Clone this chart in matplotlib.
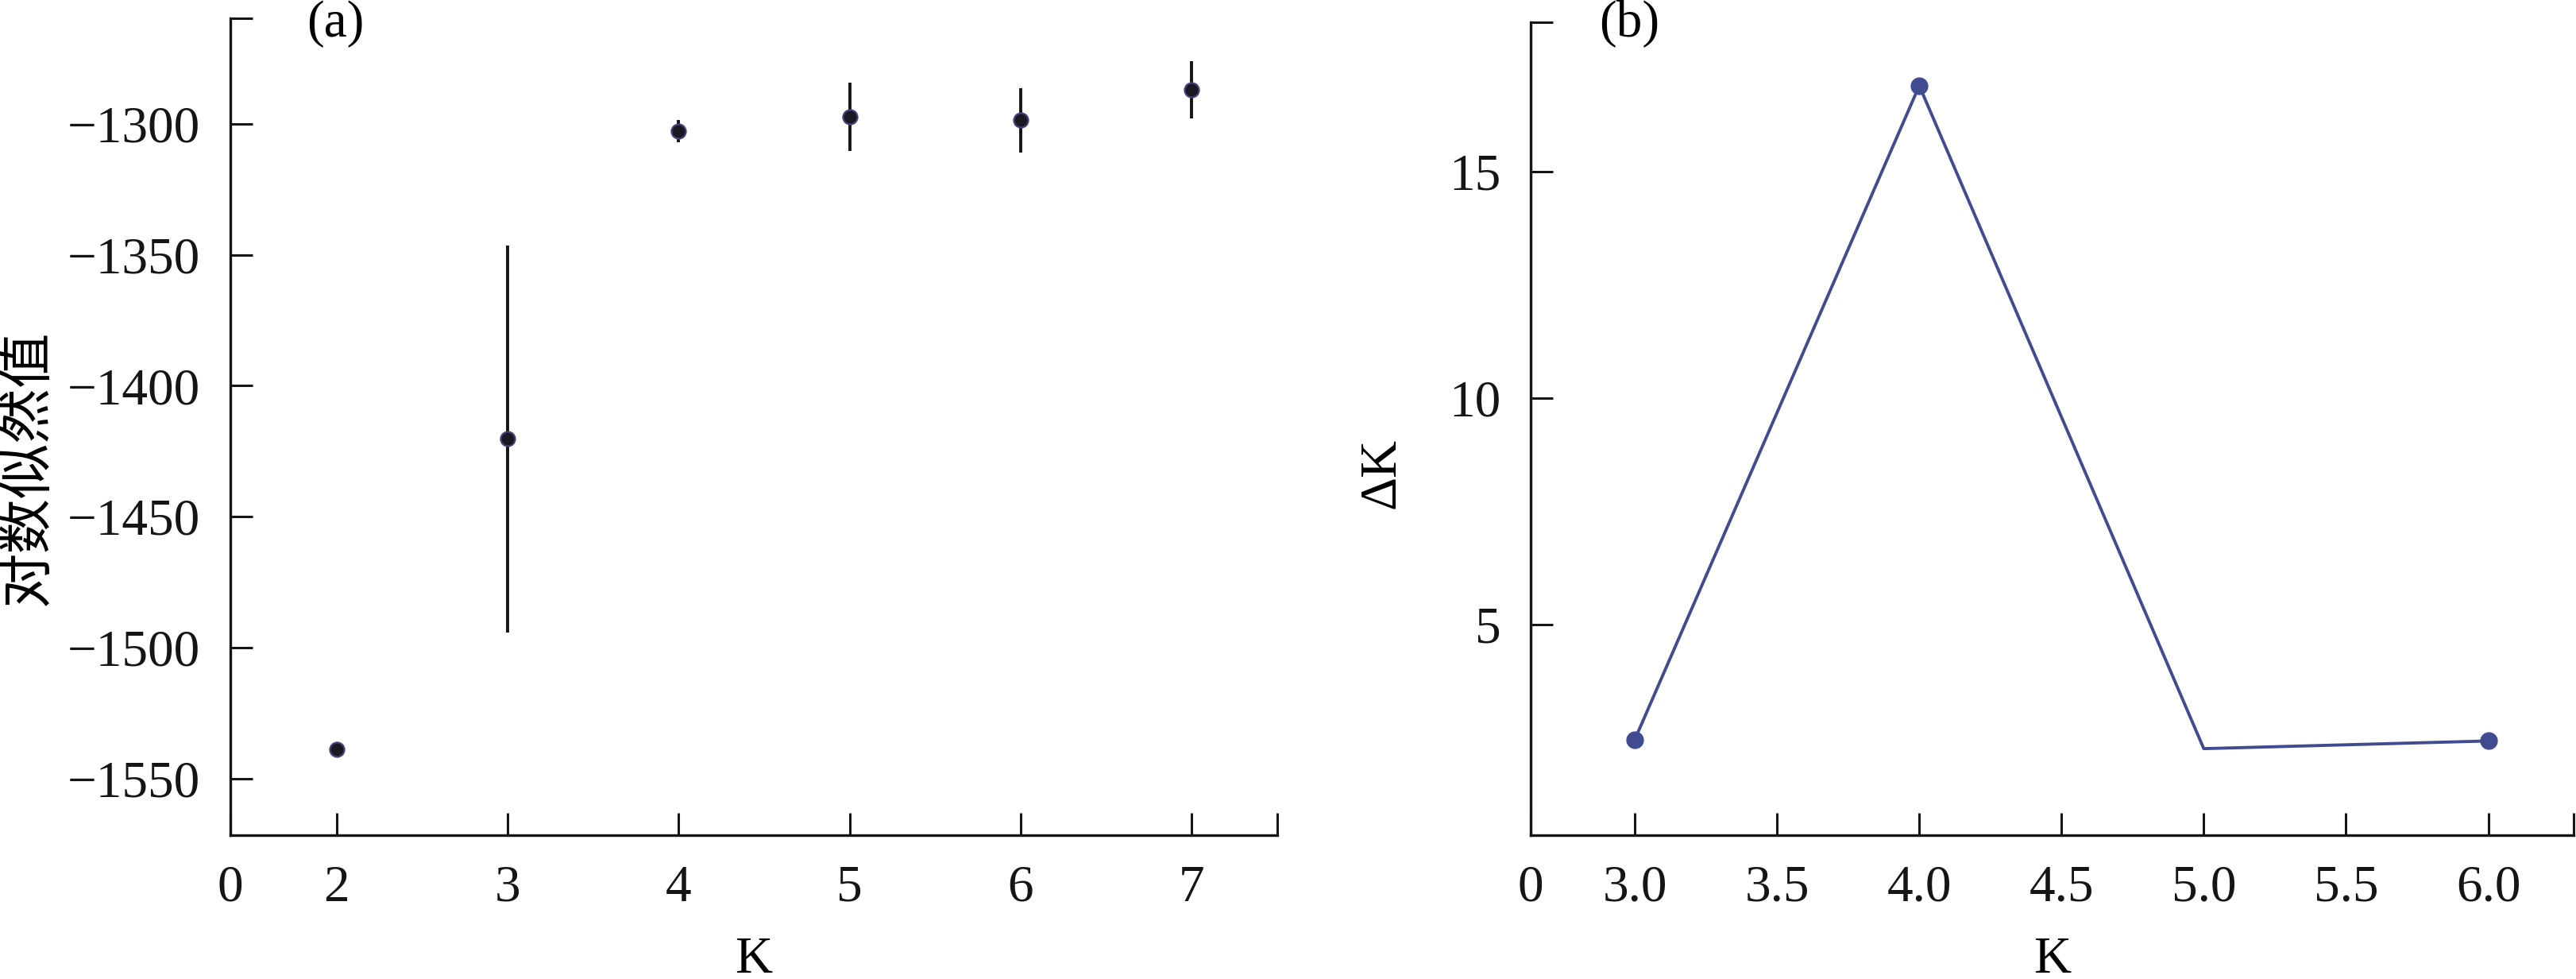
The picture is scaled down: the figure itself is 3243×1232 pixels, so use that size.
import matplotlib
matplotlib.use("Agg")
import matplotlib.pyplot as plt

plt.rcParams['font.family'] = ['Liberation Serif', 'DejaVu Serif']
plt.rcParams['axes.unicode_minus'] = True

# (a) log likelihood per K, mean and sd
k_lnp = [2, 3, 4, 5, 6, 7]
lnp_mean = [-1539, -1420.3, -1302.8, -1297.2, -1298.6, -1287]
lnp_sd = [2, 73.9, 4.2, 13.1, 12.4, 10.9]

# (b) delta K
k_delta = [3, 4, 5, 6]
delta_k = [2.45, 16.9, 2.25, 2.42]

# axis ranges
xlim_a = (1.38, 7.50)
ylim_a = (-1571.7, -1259.6)
xlim_b = (2.634, 6.30)
ylim_b = (0.338, 18.31)

W, H = 3243, 1232
fig = plt.figure(figsize=(W / 100, H / 100), dpi=100)
ax1 = fig.add_axes([290 / W, 1 - 1051 / H, (1608 - 290) / W, (1051 - 23) / H])
ax2 = fig.add_axes([1927 / W, 1 - 1051 / H, (3240 - 1927) / W, (1051 - 27.5) / H])

fs = 47
for ax in (ax1, ax2):
    ax.spines['top'].set_visible(False)
    ax.spines['right'].set_visible(False)
    for s in ('left', 'bottom'):
        ax.spines[s].set_linewidth(2.4)
        ax.spines[s].set_color('#151515')
    ax.tick_params(direction='in', length=20, width=2.2, color='#151515',
                   labelsize=fs, pad=27, labelcolor='#151515')

# panel (a)
ax1.errorbar(k_lnp, lnp_mean, yerr=lnp_sd, fmt='o', color='#1a1820',
             ecolor='#151515', elinewidth=2.8, capsize=0, markersize=13,
             markeredgecolor='#4a3f7a', markeredgewidth=1.6)
ax1.set_xlim(*xlim_a)
ax1.set_ylim(*ylim_a)
ax1.set_xticks([xlim_a[0]] + k_lnp + [xlim_a[1]])
ax1.set_xticklabels(['0'] + [str(k) for k in k_lnp] + [''])
yt = [-1550, -1500, -1450, -1400, -1350, -1300]
ax1.set_yticks(yt + [ylim_a[1]])
ax1.set_yticklabels([f'\u2212{abs(v)}' for v in yt] + [''])
ax1.set_xlabel('K', fontsize=fs, labelpad=22)
ax1.set_ylabel('对数似然值', fontsize=50, family=['Noto Sans CJK SC', 'DejaVu Sans'])
ax1.yaxis.set_label_coords(-0.167, 0.45)

# panel (b)
ax2.plot(k_delta, delta_k, '-', color='#414b8f', linewidth=2.8,
         marker='o', markersize=15, markevery=[0, 1, 3])
ax2.set_xlim(*xlim_b)
ax2.set_ylim(*ylim_b)
xt = [3.0, 3.5, 4.0, 4.5, 5.0, 5.5, 6.0]
ax2.set_xticks([xlim_b[0]] + xt + [xlim_b[1]])
ax2.set_xticklabels(['0'] + [f'{v:.1f}' for v in xt] + [''])
ax2.set_yticks([5, 10, 15, ylim_b[1]])
ax2.set_yticklabels(['5', '10', '15', ''])
ax2.set_xlabel('K', fontsize=fs, labelpad=22)
ax2.set_ylabel('ΔK', fontsize=fs)
ax2.yaxis.set_label_coords(-0.12, 0.4455)

fig.text(422 / W, 1 - 30 / H, '(a)', fontsize=fs, ha='center', va='center')
fig.text(2051 / W, 1 - 30 / H, '(b)', fontsize=fs, ha='center', va='center')

fig.savefig('out.png', dpi=100, facecolor='white')
